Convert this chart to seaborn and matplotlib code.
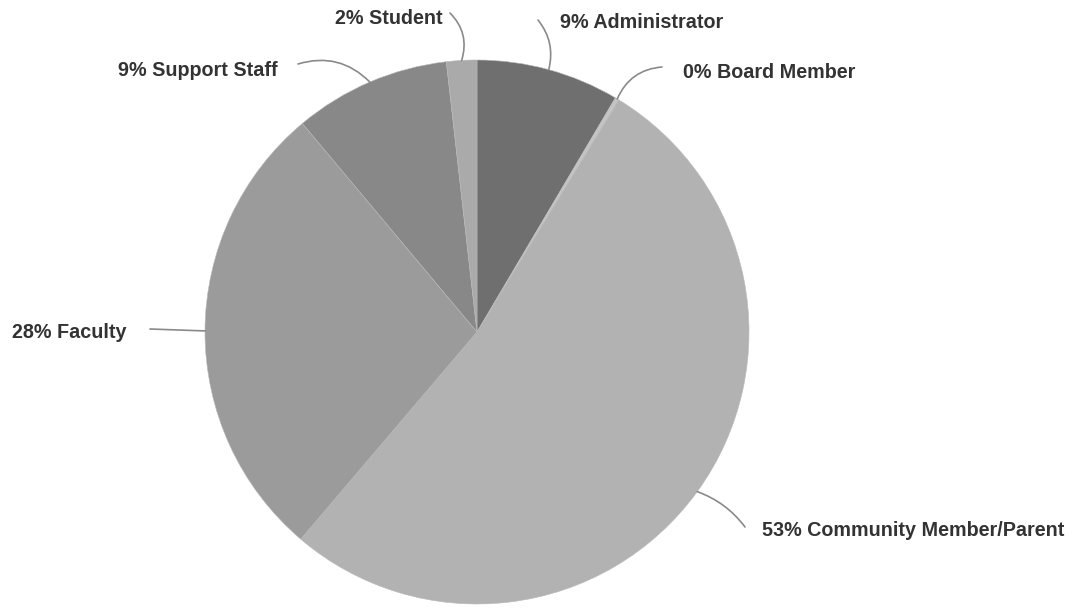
import numpy as np
import seaborn as sns
import matplotlib.pyplot as plt

# share of respondents by role (clockwise from 12 o'clock)
roles = ["Administrator", "Board Member", "Community Member/Parent",
         "Faculty", "Support Staff", "Student"]
shares = [8.5, 0.25, 52.5, 27.7, 9.3, 1.8]
pct_labels = ["9%", "0%", "53%", "28%", "9%", "2%"]
colors = ["#6f6f6f", "#c4c4c4", "#b2b2b2", "#9b9b9b", "#888888", "#aaaaaa"]

sns.set_style("white")
plt.rcParams["font.family"] = ["Liberation Sans", "DejaVu Sans"]

W, H = 1077, 609
fig = plt.figure(figsize=(W / 100, H / 100), dpi=100)
ax = fig.add_axes([0, 0, 1, 1])

cx, cy, r = 477, H - 332, 272
wedges, _ = ax.pie(shares, colors=colors, startangle=90, counterclock=False,
                   center=(cx, cy), radius=r, frame=True,
                   wedgeprops=dict(linewidth=0.4, edgecolor="#b8b8b8"))
ax.set_xlim(0, W)
ax.set_ylim(0, H)
ax.set_aspect("equal")
ax.axis("off")

# leader line end points and label anchors (pixel coords, y from top)
line_ends = [(538, 20), (662, 67), (745, 527), (150, 329), (298, 64), (450, 13)]
text_pos = [(560, 22), (683, 73), (762, 531), (12, 332), (118, 71), (335, 18)]
rads = [-0.25, 0.3, 0.15, 0.0, -0.3, -0.3]

for w, pct, role, le, tp, rad in zip(wedges, pct_labels, roles, line_ends, text_pos, rads):
    ang = np.deg2rad((w.theta1 + w.theta2) / 2)
    start = (cx + r * np.cos(ang), cy + r * np.sin(ang))
    ax.annotate("", xy=start, xytext=(le[0], H - le[1]),
                arrowprops=dict(arrowstyle="-", color="#8a8a8a", lw=1.2,
                                shrinkA=0, shrinkB=0,
                                connectionstyle=f"arc3,rad={rad}"))
    ax.text(tp[0], H - tp[1], f"{pct} {role}", ha="left", va="center",
            fontsize=14.2, fontweight="bold", color="#333333")

fig.savefig("out.png", dpi=100, facecolor="white")
